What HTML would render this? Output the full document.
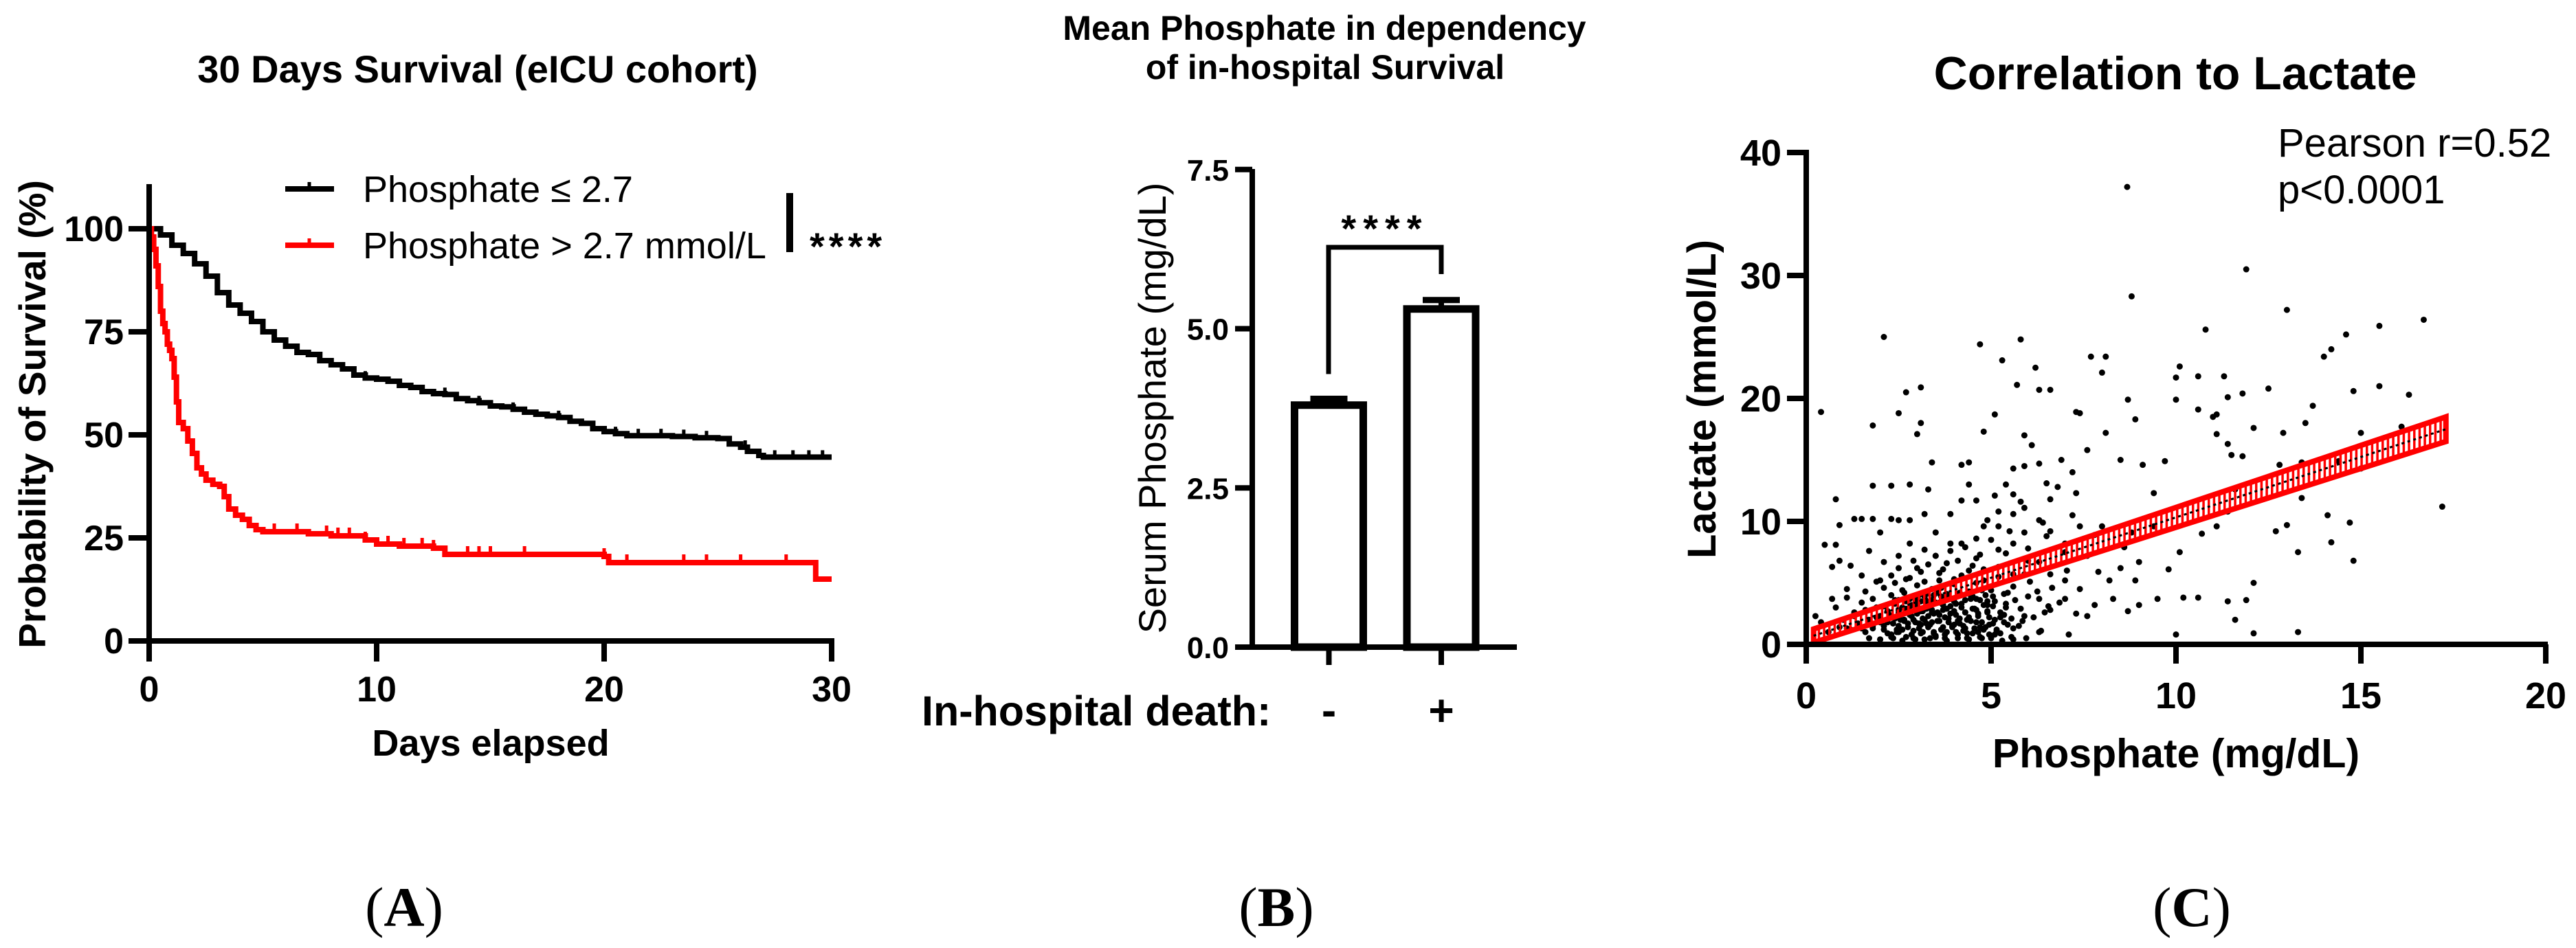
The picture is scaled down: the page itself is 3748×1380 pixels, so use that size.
<!DOCTYPE html>
<html><head><meta charset="utf-8"><style>
html,body{margin:0;padding:0;background:#fff;}
svg{display:block;font-family:"Liberation Sans",Arial,sans-serif;}
</style></head><body>
<svg id="fig" width="3748" height="1380" viewBox="0 0 3748 1380" xmlns="http://www.w3.org/2000/svg">
<rect width="3748" height="1380" fill="#fff"/>
<g id="pa"></g>
<g id="pb"></g>
<g id="pc"></g>
</svg>
<script>
// ---------- Panel A data ----------
const kmBlackT = [0,0.5,1,1.5,2,2.5,3,3.5,4,4.5,5,5.5,6,6.5,7,7.5,8,8.5,9,9.5,10,10.5,11,11.5,12,12.5,13,13.5,14,14.5,15,15.5,16,16.5,17,17.5,18,18.5,19,19.5,20,20.5,21,22,23,24,25,25.5,26,26.3,26.8,27,30];
const kmBlackS = [100,98.5,96,94,91.5,88.5,84.5,81.5,79.5,77.5,75,73,71.5,70,69.5,68,67,66,64.5,63.8,63.5,63,62,61.5,60.5,60,59.8,58.8,58.3,57.8,57,56.8,56.2,55.5,55,54.6,54.2,53.3,52.8,51.5,50.8,50.3,49.8,49.8,49.6,49.3,49.1,47.8,47,46,45,44.6,44.6];
const kmRedT = [0,0.1,0.2,0.3,0.4,0.5,0.6,0.7,0.8,0.9,1.0,1.1,1.2,1.3,1.5,1.7,1.9,2.1,2.3,2.5,2.8,3.1,3.3,3.5,3.8,4.1,4.4,4.7,5,7,8,9.5,10,11,12.5,13,20,20.2,29.2,29.3,30];
const kmRedS = [100,98,95,91,86,80,77,75,72,70.5,68.5,64,58,53,51.5,48.5,45.5,42,40.5,39,38,37.5,35,32,30.5,29.5,28,27,26.5,26,25.5,24.5,23.5,23,22.5,21,20.5,19,19,15,15];
const censorBlackT = [9.5,11,13,14.5,16,18,20.5,21.5,22.5,23.5,24.5,26.2,27.5,28.3,29,29.6];
const censorRedT = [5.5,6.5,7.8,8.3,8.8,9.5,10.5,11.2,12,12.5,14,14.5,15,16.5,20,21,23.5,24.5,26,28];
const aXTicks = [0,10,20,30];
const aYTicks = [0,25,50,75,100];
// ---------- Panel B data ----------
const barCats = ["-","+"];
const barMeans = [3.80,5.31];
const barErr = [0.10,0.14];
const bYTicks = ["0.0","2.5","5.0","7.5"];
// ---------- Panel C data ----------
const scatX = [8.68,8.8,11.9,13.0,10.8,2.1,4.7,5.8,5.3,7.7,8.1,10.1,10.0,10.6,11.3,6.2,8.0,15.5,14.6,14.2,14.0,16.7,15.5,14.8,16.3,12.5,11.8,10.0,3.1,2.7,2.5,0.4,1.8,3.1,3.0,4.8,5.1,5.9,5.7,6.3,6.6,7.3,8.1,8.7,8.9,8.5,9.1,9.7,9.4,10.6,11.0,11.1,11.4,11.4,11.1,12.1,12.9,13.5,13.7,12.8,13.4,14.4,15.0,15.0,16.1,17.2,13.4,14.1,14.7,12.7,13.0,13.3,14.2,14.8,13.3,12.1,12.1,11.9,11.6,11.4,10.6,10.2,10.0,11.1,11.4,10.7,11.6,11.5,11.8,10.1,9.8,9.5,9.0,8.7,9.4,8.8,8.6,8.0,7.8,7.4,7.6,8.2,8.3,7.8,7.6,7.1,7.0,7.3,7.2,7.6,7.4,6.9,6.5,6.6,6.3,6.1,5.9,5.6,5.4,5.1,4.4,4.2,4.4,3.4,3.3,2.8,2.3,2.3,1.8,1.8,1.3,1.5,0.8,0.8,0.9,0.5,0.25,0.4,0.7,0.9,0.7,1.2,1.1,1.5,1.7,2.0,2.5,2.8,3.2,3.5,3.9,4.2,4.6,4.9,5.2,5.6,5.9,6.3,6.6,7.0,5.9,5.6,5.2,4.6,4.2,3.9,3.5,3.2,2.8,2.5,2.1,2.0,1.8,1.6,1.3,1.1,1.5,2.0,2.5,5.9,6.3,6.6,7.0,6.3,6.6,5.9,5.6,6.3,5.1,7.3,7.4,7.9,8.5,9.0,8.9,
2.1,2.3,2.4,2.5,2.6,2.7,2.8,2.9,3.0,3.1,3.2,3.3,3.4,3.5,3.6,3.7,3.8,3.9,4.0,4.1,4.2,4.3,4.4,4.5,4.6,4.7,4.8,4.9,5.0,5.1,
2.2,2.4,2.6,2.8,3.0,3.2,3.4,3.6,3.8,4.0,4.2,4.4,4.6,4.8,5.0,5.2,5.4,5.6,5.8,6.0,
2.0,2.2,2.35,2.55,2.75,2.95,3.15,3.35,3.55,3.75,3.95,4.15,4.35,4.55,4.75,4.95,5.15,5.35,5.55,5.75,5.95,6.15,6.35,6.55,
1.6,1.7,1.8,1.9,2.0,1.5,1.4,1.3,1.2,1.0,0.9,0.6,0.8,1.1,1.6,1.9,2.1,2.3,2.5,2.7,2.9,3.1,3.3,3.5,3.7,3.9,4.1,4.3,4.5,4.7,
2.45,2.65,2.85,3.05,3.25,3.45,3.65,3.85,4.05,4.25,4.45,4.65,4.85,5.05,5.25,5.45,5.65,5.85,6.05,6.25,6.45,6.65,6.85,7.05,
3.0,3.1,3.2,3.3,3.4,3.5,3.6,3.7,3.8,3.9,4.0,4.1,3.05,3.25,3.45,3.65,2.9,2.7,2.5,2.6,4.3,4.5,4.7,4.9,
1.7,2.0,2.3,2.6,2.9,3.2,3.5,3.8,4.1,4.4,4.7,5.0,5.3,5.6,
1.8,2.1,2.45,2.75,3.05,3.35,3.65,3.95,4.25,4.55,4.85,5.15,5.45,
1.9,2.25,2.55,2.85,3.15,3.45,3.75,4.05,4.35,4.65,4.95,5.25,5.55,
2.1,2.4,2.7,3.0,3.3,3.6,3.9,4.2,4.5,4.8,5.1,5.4,
2.3,2.65,2.95,3.25,3.55,3.85,4.15,4.45,4.75,5.05,5.35,
2.2,2.5,2.85,3.15,3.45,3.75,4.05,4.35,4.65,4.95,5.25,
2.0,2.35,2.65,2.95,3.25,3.55,3.85,4.15,4.45,4.75,5.05,5.35,
2.2,2.5,2.8,3.1,3.4,3.7,4.0,4.3,4.6,4.9,
2.5,2.8,3.1,3.4,3.7,4.0,4.3,4.6,4.9,
2.4,2.8,3.2,3.6,4.0,4.4,4.8,5.2,5.6,6.0,3.0,3.8,4.6,5.4,
5.0,5.5,6.0,6.5,7.0,5.2,5.8,6.4,7.2,4.8,5.6,6.8];
const scatY = [37.2,28.3,30.5,27.2,25.6,25.0,24.4,24.8,23.1,23.4,23.4,22.6,21.7,21.8,21.8,22.5,22.1,25.9,25.2,24.0,23.4,26.4,21.0,20.6,20.3,20.8,20.4,19.9,20.9,20.5,18.8,18.9,17.8,18.0,17.1,17.3,18.7,17.0,21.1,20.7,20.7,18.9,17.2,19.9,18.3,15.0,14.6,14.9,12.3,19.1,18.5,18.7,20.1,16.3,17.1,17.6,17.2,18.0,19.4,14.6,14.8,14.9,14.3,17.2,17.7,11.2,11.9,10.5,9.9,9.2,9.7,7.5,8.3,6.8,1.0,5.0,0.9,3.6,2.0,3.5,3.8,3.8,0.8,9.6,10.8,9.0,12.6,15.4,15.3,7.5,6.1,3.7,3.2,2.7,9.6,9.1,7.9,9.6,8.9,9.6,7.2,5.2,3.7,3.2,2.3,0.8,3.7,12.3,14.0,15.8,18.8,15.0,13.1,11.8,14.7,16.2,14.5,14.3,13.0,12.1,13.0,14.6,14.8,14.8,12.6,13.0,12.9,10.2,12.9,10.2,10.2,10.2,11.8,8.1,9.7,8.1,2.3,1.8,6.3,6.8,3.7,6.4,4.5,5.6,7.6,9.1,10.1,10.1,10.6,9.1,10.6,11.7,11.7,10.1,9.6,10.6,11.1,10.1,9.2,8.2,9.1,8.2,7.7,8.6,8.2,8.2,7.2,7.7,8.2,7.2,6.7,5.2,3.7,2.8,2.3,1.3,1.3,1.8,2.8,5.7,6.7,5.7,5.2,3.7,2.8,2.3,1.3,1.0,0.8,2.5,4.5,5.9,6.2,6.7,5.2,
1.2,0.8,2.1,1.5,3.0,0.6,2.4,1.1,3.5,0.9,2.0,1.4,2.8,0.7,1.9,3.2,1.0,2.5,1.6,0.8,3.0,1.3,2.2,0.9,1.8,3.6,1.2,2.6,0.7,2.0,
2.7,3.6,4.4,3.8,4.8,3.9,4.5,5.2,4.1,4.9,5.6,4.3,5.0,6.1,4.4,5.5,3.3,4.7,2.9,3.9,
0.4,1.8,0.5,2.4,1.7,0.4,2.7,0.5,2.6,0.5,1.5,2.1,0.5,2.9,0.5,1.6,1.1,2.4,0.6,1.5,0.5,2.2,1.1,3.1,
1.0,2.0,1.5,3.0,2.3,3.4,1.7,2.6,1.2,2.0,1.4,1.0,3.0,3.8,4.3,5.1,4.6,5.6,6.2,5.3,6.8,5.9,6.5,7.2,6.1,7.6,6.8,7.9,6.4,7.3,
1.0,2.0,3.2,1.7,2.9,1.0,3.9,2.1,3.3,1.1,3.7,2.5,4.0,3.1,2.2,4.2,3.6,1.9,5.1,4.3,2.6,4.6,3.4,6.0,
2.5,1.6,3.0,2.3,1.8,3.4,2.4,1.4,2.9,3.7,2.6,1.9,4.0,3.5,4.0,4.6,2.0,3.5,2.8,1.2,2.6,3.9,1.4,3.2,
0.5,0.4,0.6,0.3,0.5,0.4,0.6,0.3,0.5,0.4,0.6,0.5,0.3,0.4,
1.3,1.5,1.2,1.4,1.3,1.6,1.2,1.4,1.5,1.3,1.4,1.2,1.6,
2.2,2.4,2.0,2.3,2.1,2.5,2.2,2.4,2.0,2.3,2.2,2.6,2.1,
3.1,3.3,2.9,3.2,3.0,3.4,3.1,3.3,2.9,3.2,3.5,3.0,
4.0,4.2,3.9,4.1,4.3,3.8,4.2,4.0,4.4,3.9,4.1,
0.9,1.0,0.8,1.0,0.9,0.8,1.0,0.9,1.0,0.8,0.9,
1.8,1.7,1.9,1.8,1.7,1.9,1.8,1.7,1.9,1.8,1.7,1.8,
2.7,2.6,2.8,2.7,2.6,2.8,2.7,2.6,2.8,2.7,
3.6,3.7,3.5,3.6,3.7,3.5,3.6,3.7,3.5,
5.0,5.4,5.1,5.8,5.3,6.0,5.2,6.3,5.7,6.8,6.2,6.6,7.0,7.4,
8.5,9.2,7.8,8.8,7.5,10.8,11.6,9.9,10.5,9.6,12.2,12.8];
const regX = [0.2,17.3];
const regY = [0.7,17.5];
const regCI = [0.55,1.0];
const cXTicks = [0,5,10,15,20];
const cYTicks = [0,10,20,30,40];

const NS="http://www.w3.org/2000/svg";
function mk(parent,tag,attrs,text){const e=document.createElementNS(NS,tag);for(const k in attrs)e.setAttribute(k,attrs[k]);if(text!==undefined)e.textContent=text;parent.appendChild(e);return e;}

// ===== Panel A =====
const pa=document.getElementById('pa');
const ax=t=>217+t*(1210-217)/30, ay=s=>933-s*6;
let e;
e=mk(pa,'text',{x:695,y:120,'text-anchor':'middle','font-size':56,'font-weight':'bold'},'30 Days Survival (eICU cohort)');


function step(T,S){let d='M'+ax(T[0])+','+ay(S[0]);for(let i=1;i<T.length;i++){d+=' H'+ax(T[i])+' V'+ay(S[i]);}return d;}
function sAt(T,S,t){let v=S[0];for(let i=0;i<T.length;i++){if(T[i]<=t)v=S[i];}return v;}
e=mk(pa,'path',{d:step(kmBlackT,kmBlackS),fill:'none',stroke:'#000','stroke-width':8});


e=mk(pa,'path',{d:step(kmRedT,kmRedS),fill:'none',stroke:'#f00','stroke-width':8});


censorBlackT.forEach(t=>{const y=ay(sAt(kmBlackT,kmBlackS,t));const c=mk(pa,'line',{x1:ax(t),x2:ax(t),y1:y-10,y2:y,stroke:'#000','stroke-width':5});

});
censorRedT.forEach(t=>{const y=ay(sAt(kmRedT,kmRedS,t));const c=mk(pa,'line',{x1:ax(t),x2:ax(t),y1:y-12,y2:y,stroke:'#f00','stroke-width':5});

});
e=mk(pa,'path',{d:'M217,268 V937 M213,933 H1214',stroke:'#000','stroke-width':8,fill:'none'});


aYTicks.forEach(v=>{mk(pa,'line',{x1:187,x2:217,y1:ay(v),y2:ay(v),stroke:'#000','stroke-width':8});
const t=mk(pa,'text',{x:180,y:ay(v)+18,'text-anchor':'end','font-size':52,'font-weight':'bold'},String(v));

});
aXTicks.forEach(v=>{mk(pa,'line',{x1:ax(v),x2:ax(v),y1:933,y2:963,stroke:'#000','stroke-width':8});
const t=mk(pa,'text',{x:ax(v),y:1021,'text-anchor':'middle','font-size':52,'font-weight':'bold'},String(v));

});
e=mk(pa,'text',{x:714,y:1100,'text-anchor':'middle','font-size':54,'font-weight':'bold'},'Days elapsed');


e=mk(pa,'text',{x:0,y:0,'text-anchor':'middle','font-size':55,'font-weight':'bold',transform:'translate(66,603) rotate(-90)'},'Probability of Survival (%)');


// legend
mk(pa,'line',{x1:415,x2:486,y1:275,y2:275,stroke:'#000','stroke-width':8});
mk(pa,'line',{x1:450,x2:450,y1:265,y2:275,stroke:'#000','stroke-width':5});
e=mk(pa,'text',{x:528,y:294,'font-size':54},'Phosphate ≤ 2.7');


mk(pa,'line',{x1:415,x2:486,y1:357,y2:357,stroke:'#f00','stroke-width':8});
mk(pa,'line',{x1:450,x2:450,y1:347,y2:357,stroke:'#f00','stroke-width':5});
e=mk(pa,'text',{x:528,y:376,'font-size':54},'Phosphate > 2.7 mmol/L');


mk(pa,'rect',{x:1144,y:281,width:10,height:86,fill:'#000'});
e=mk(pa,'text',{x:1178,y:378,'font-size':56,'font-weight':'bold','letter-spacing':6},'****');


e=mk(pa,'text',{x:588,y:1348,'text-anchor':'middle','font-size':82,'font-family':'"Liberation Serif",serif'});
e.innerHTML='(<tspan font-weight="bold">A</tspan>)';



// ===== Panel B =====
const pb=document.getElementById('pb');
const by=v=>942-v*92.7;
const bx=[1933.5,2097];
e=mk(pb,'text',{x:1927,y:58,'text-anchor':'middle','font-size':50,'font-weight':'bold'},'Mean Phosphate in dependency');


mk(pb,'text',{x:1928,y:115,'text-anchor':'middle','font-size':50,'font-weight':'bold'},'of in-hospital Survival');
barMeans.forEach((m,i)=>{
 const r=mk(pb,'rect',{x:bx[i]-50,y:by(m),width:100,height:942-by(m),fill:'#fff',stroke:'#000','stroke-width':11});
 
 
 const top=by(m+barErr[i]);
 mk(pb,'line',{x1:bx[i],x2:bx[i],y1:by(m),y2:top,stroke:'#000','stroke-width':8});
 const c=mk(pb,'line',{x1:bx[i]-27,x2:bx[i]+27,y1:top,y2:top,stroke:'#000','stroke-width':9});
 
 
 mk(pb,'line',{x1:bx[i],x2:bx[i],y1:942,y2:968,stroke:'#000','stroke-width':8});
 const t=mk(pb,'text',{x:bx[i],y:1056,'text-anchor':'middle','font-size':64,'font-weight':'bold'},barCats[i]);
 
 
});
e=mk(pb,'path',{d:'M1822,246 V946 M1797,942 H2207',stroke:'#000','stroke-width':8,fill:'none'});


bYTicks.forEach(s=>{const v=parseFloat(s);mk(pb,'line',{x1:1797,x2:1822,y1:by(v),y2:by(v),stroke:'#000','stroke-width':8});
const t=mk(pb,'text',{x:1788,y:by(v)+16,'text-anchor':'end','font-size':44,'font-weight':'bold'},s);

});
e=mk(pb,'path',{d:'M1933,'+(by(barMeans[0]+barErr[0])-36)+' V360 H2097 V399',stroke:'#000','stroke-width':7,fill:'none'});


e=mk(pb,'text',{x:2015,y:352,'text-anchor':'middle','font-size':56,'font-weight':'bold','letter-spacing':10},'****');


e=mk(pb,'text',{x:0,y:0,'text-anchor':'middle','font-size':56,transform:'translate(1696,594) rotate(-90)'},'Serum Phosphate (mg/dL)');


e=mk(pb,'text',{x:1341,y:1056,'font-size':61,'font-weight':'bold'},'In-hospital death:');


e=mk(pb,'text',{x:1857,y:1348,'text-anchor':'middle','font-size':82,'font-family':'"Liberation Serif",serif'});
e.innerHTML='(<tspan font-weight="bold">B</tspan>)';



// ===== Panel C =====
const pc=document.getElementById('pc');
const cx=v=>2628+v*53.8, cy=v=>938-v*17.9;
e=mk(pc,'text',{x:3165,y:130,'text-anchor':'middle','font-size':68,'font-weight':'bold'},'Correlation to Lactate');


e=mk(pc,'text',{x:3314,y:228,'font-size':58},'Pearson r=0.52');


mk(pc,'text',{x:3314,y:296,'font-size':58},'p<0.0001');
const dots=mk(pc,'g',{});


for(let i=0;i<scatX.length;i++){mk(dots,'circle',{cx:cx(scatX[i]),cy:cy(scatY[i]),r:4.5,fill:'#000'});}
// regression band with CI bars
const b0=regCI[0], b1=regCI[1];
const bandD='M'+cx(regX[0])+','+cy(regY[0]+b0)+' L'+cx(regX[1])+','+cy(regY[1]+b1)+' L'+cx(regX[1])+','+cy(regY[1]-b1)+' L'+cx(regX[0])+','+cy(regY[0]-b0)+' Z';
e=mk(pc,'path',{d:bandD,fill:'none',stroke:'#f00','stroke-width':8});


const nBars=120;
for(let k=0;k<=nBars;k++){const f=k/nBars;const xv=regX[0]+f*(regX[1]-regX[0]);const yv=regY[0]+f*(regY[1]-regY[0]);const h=regCI[0]+f*(regCI[1]-regCI[0]);
 mk(pc,'line',{x1:cx(xv),x2:cx(xv),y1:cy(yv+h),y2:cy(yv-h),stroke:'#f00','stroke-width':3.5});}
e=mk(pc,'line',{x1:cx(regX[0]),y1:cy(regY[0]),x2:cx(regX[1]),y2:cy(regY[1]),stroke:'#000','stroke-width':3,'stroke-dasharray':'4 5'});


e=mk(pc,'path',{d:'M2628,218 V942 M2624,938 H3707',stroke:'#000','stroke-width':8,fill:'none'});


cYTicks.forEach(v=>{mk(pc,'line',{x1:2600,x2:2628,y1:cy(v),y2:cy(v),stroke:'#000','stroke-width':8});
const t=mk(pc,'text',{x:2592,y:cy(v)+19,'text-anchor':'end','font-size':54,'font-weight':'bold'},String(v));

});
cXTicks.forEach(v=>{mk(pc,'line',{x1:cx(v),x2:cx(v),y1:938,y2:966,stroke:'#000','stroke-width':8});
const t=mk(pc,'text',{x:cx(v),y:1031,'text-anchor':'middle','font-size':54,'font-weight':'bold'},String(v));

});
e=mk(pc,'text',{x:3166,y:1117,'text-anchor':'middle','font-size':59,'font-weight':'bold'},'Phosphate (mg/dL)');


e=mk(pc,'text',{x:0,y:0,'text-anchor':'middle','font-size':58,'font-weight':'bold',transform:'translate(2496,581) rotate(-90)'},'Lactate (mmol/L)');


e=mk(pc,'text',{x:3189,y:1348,'text-anchor':'middle','font-size':82,'font-family':'"Liberation Serif",serif'});
e.innerHTML='(<tspan font-weight="bold">C</tspan>)';


</script>
</body></html>
